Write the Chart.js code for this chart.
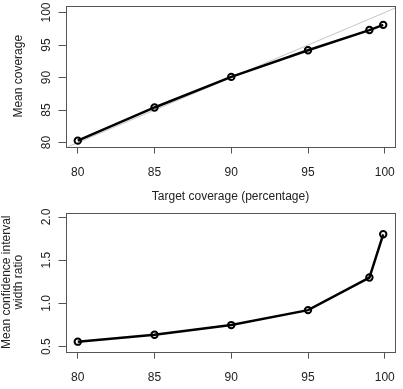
<!DOCTYPE html>
<html>
<head>
<meta charset="utf-8">
<script src="https://cdn.jsdelivr.net/npm/chart.js@4"></script>
<style>
  html, body { margin: 0; padding: 0; background: #fff; }
  #wrap { position: relative; width: 403px; height: 389px; overflow: hidden; }
  canvas { position: absolute; left: 0; }
  #topChart { top: 0; }
  #bottomChart { top: 200px; }
</style>
</head>
<body>
<div id="wrap">
  <canvas id="topChart" width="403" height="205"></canvas>
  <canvas id="bottomChart" width="403" height="189"></canvas>
</div>
<script>
// target coverage (x) shared by both panels
const targetCoverage = [80, 85, 90, 95, 99, 99.9];
const meanCoverage = [80.3, 85.4, 90.1, 94.2, 97.3, 98.1];
const widthRatio = [0.558, 0.638, 0.75, 0.923, 1.30, 1.80];

const xTicks = [80, 85, 90, 95, 100];
const coverageTicks = [80, 85, 90, 95, 100];
const ratioTicks = [0.5, 1.0, 1.5, 2.0];
// y = x reference line ends
const refLine = [79, 101];

const font = { family: "'Liberation Sans', Arial, sans-serif", size: 12 };
const axisGray = '#555';
const textColor = '#222';

Chart.defaults.animation = false;

const boxPlugin = {
    id: 'box',
    afterDraw(chart) {
        const a = chart.chartArea;
        const c = chart.ctx;
        c.save();
        c.strokeStyle = axisGray;
        c.lineWidth = 1;
        c.strokeRect(Math.round(a.left) + 0.5, Math.round(a.top) + 0.5,
            Math.round(a.right - a.left) - 1, Math.round(a.bottom - a.top));
        c.restore();
    }
};

// no extra room for overhanging labels, layout padding decides the plot box
function noLabelPadding(s) {
    s.paddingLeft = 0;
    s.paddingRight = 0;
    s.paddingTop = 0;
    s.paddingBottom = 0;
}

function xScale(showTitle, height) {
    return {
        type: 'linear',
        position: 'bottom',
        min: 79.2,
        max: 100.7,
        afterBuildTicks: s => { s.ticks = xTicks.map(v => ({ value: v })); },
        afterFit: s => { s.height = height; noLabelPadding(s); },
        border: { display: false },
        grid: { drawOnChartArea: false, drawTicks: true, tickLength: 7, tickColor: axisGray },
        ticks: { font: font, color: textColor, padding: 12, maxRotation: 0, autoSkip: false },
        title: {
            display: showTitle,
            text: 'Target coverage (percentage)',
            font: font,
            color: textColor,
            padding: { top: 0, bottom: 1 }
        }
    };
}

function yScale(min, max, ticks, fmt, title, titlePad, tickPad, lineHeight) {
    return {
        type: 'linear',
        position: 'left',
        min: min,
        max: max,
        afterBuildTicks: s => { s.ticks = ticks.map(v => ({ value: v })); },
        afterFit: s => { s.width = 65.5; noLabelPadding(s); },
        border: { display: false },
        grid: { drawOnChartArea: false, drawTicks: true, tickLength: 7, tickColor: axisGray },
        ticks: {
            font: font, color: textColor, padding: tickPad,
            minRotation: 90, maxRotation: 90, crossAlign: 'center',
            callback: fmt
        },
        title: {
            display: true,
            text: title,
            font: Object.assign({}, font, { lineHeight: lineHeight }),
            color: textColor,
            padding: { top: titlePad, bottom: 0 }
        }
    };
}

const lineStyle = {
    borderColor: '#000',
    borderWidth: 2.5,
    pointRadius: 3.2,
    pointBorderWidth: 2,
    pointBorderColor: '#000',
    pointBackgroundColor: 'rgba(0,0,0,0)',
    tension: 0
};

new Chart(document.getElementById('topChart').getContext('2d'), {
    type: 'line',
    data: {
        datasets: [
            Object.assign({
                data: targetCoverage.map((x, i) => ({ x: x, y: meanCoverage[i] })),
                order: 0
            }, lineStyle),
            {
                data: refLine.map(v => ({ x: v, y: v })),
                borderColor: '#c4c4c4',
                borderWidth: 1,
                pointRadius: 0,
                order: 1
            }
        ]
    },
    options: {
        responsive: false,
        layout: { padding: { left: 0, right: 7.5, top: 6, bottom: 0 } },
        plugins: { legend: { display: false }, tooltip: { enabled: false } },
        scales: {
            x: xScale(true, 58.5),
            y: yScale(79.4, 101, coverageTicks, v => String(v), 'Mean coverage', 11.8, 2, 1.2)
        }
    },
    plugins: [boxPlugin]
});

new Chart(document.getElementById('bottomChart').getContext('2d'), {
    type: 'line',
    data: {
        datasets: [
            Object.assign({
                data: targetCoverage.map((x, i) => ({ x: x, y: widthRatio[i] }))
            }, lineStyle)
        ]
    },
    options: {
        responsive: false,
        layout: { padding: { left: 0, right: 7.5, top: 12.7, bottom: 0 } },
        plugins: { legend: { display: false }, tooltip: { enabled: false } },
        scales: {
            x: xScale(false, 37.3),
            y: yScale(0.442, 2.05, ratioTicks, v => v.toFixed(1),
                ['Mean confidence interval', 'width ratio'], 0, 3.5, 1.05)
        }
    },
    plugins: [boxPlugin]
});
</script>
</body>
</html>
